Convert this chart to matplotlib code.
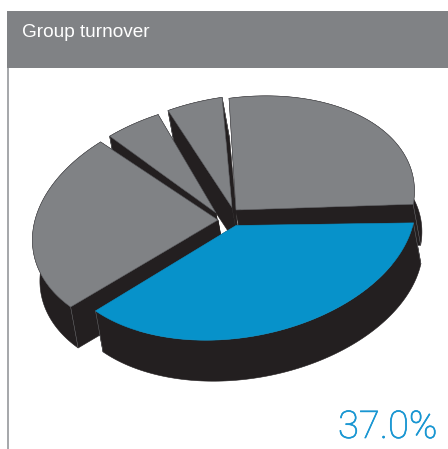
import numpy as np
import matplotlib
matplotlib.use("Agg")
import matplotlib.pyplot as plt
import matplotlib.patheffects as pe
from matplotlib.patches import Polygon, Rectangle
from matplotlib import font_manager as fm

# Turnover shares, going anticlockwise from the right-hand edge
segments = ["Upper right", "Small A", "Small B", "Left", "Highlighted"]
shares = [27.5, 5.0, 5.0, 24.5, 37.0]
highlight_label = "37.0%"
title = "Group turnover"

GREY = "#808285"
BLUE = "#0792CA"
DARK = "#231F20"
RULE = "#A7A9AC"
LABEL_BLUE = "#1896D2"
SEAM = "#6D6E71"

# Pie geometry in figure pixels
START_ANGLE = -13.0
RX, RY = 181.0, 112.0
TILT = np.deg2rad(10.0)
DEPTH = np.array([7.5, 41.0])
apexes = {
    "Upper right": (236, 210),
    "Small A": (232, 207.5),
    "Small B": (216, 213),
    "Left": (218, 220),
    "Highlighted": (236, 225.5),
}
radius_scale = {"Upper right": 0.995, "Small A": 0.985, "Small B": 0.98,
                "Left": 1.035, "Highlighted": 1.0}
# Angular shift applied before a slice starts, in degrees
angle_shift = {"Small A": 1.0, "Small B": -2.0, "Left": 2.0, "Highlighted": 1.0}
draw_order = ["Small A", "Small B", "Upper right", "Left", "Highlighted"]

available = {f.name for f in fm.fontManager.ttflist}
light_font = "Roboto" if "Roboto" in available else "Liberation Sans"

fig = plt.figure(figsize=(4.48, 4.49), dpi=100, facecolor="white")
ax = fig.add_axes([0, 0, 1, 1])
ax.set_xlim(0, 448)
ax.set_ylim(449, 0)
ax.axis("off")

# Header band and the rule down the left side
ax.add_patch(Rectangle((7, 11), 441, 57, facecolor=GREY, edgecolor="none", zorder=1))
ax.add_patch(Rectangle((7.3, 68), 1.7, 381, facecolor=RULE, edgecolor="none", zorder=1))
ax.text(22, 37, title, color="white", fontsize=13.7, family="Liberation Sans",
        va="baseline", ha="left", zorder=5)


def arc_points(apex, a0, a1, scale):
    """Elliptical rim of one slice, as points in figure pixels."""
    t = np.deg2rad(np.linspace(a0, a1, 120))
    ex, ey = scale * RX * np.cos(t), scale * RY * np.sin(t)
    x = apex[0] + ex * np.cos(TILT) - ey * np.sin(TILT)
    y = apex[1] - (ex * np.sin(TILT) + ey * np.cos(TILT))
    return np.column_stack([x, y])


# Cumulative angles from the shares
angles = {}
current = START_ANGLE
for name, share in zip(segments, shares):
    current += angle_shift.get(name, 0.0)
    sweep = share / 100.0 * 360.0
    angles[name] = (current, current + sweep)
    current += sweep

z = 2
for name in draw_order:
    apex = np.array(apexes[name], dtype=float)
    rim = arc_points(apex, *angles[name], radius_scale.get(name, 1.0))
    wall = np.vstack([rim, (rim + DEPTH)[::-1]])
    side_a = np.array([apex, rim[0], rim[0] + DEPTH, apex + DEPTH])
    side_b = np.array([apex, rim[-1], rim[-1] + DEPTH, apex + DEPTH])
    for shape in (wall, side_a, side_b):
        ax.add_patch(Polygon(shape, closed=True, facecolor=DARK, edgecolor=DARK,
                             linewidth=0.4, zorder=z))
    # Faint seams where the rim wall meets the cut faces
    for corner in (rim[0], rim[-1]):
        ax.plot([corner[0], corner[0] + DEPTH[0]], [corner[1], corner[1] + DEPTH[1]],
                color=SEAM, linewidth=0.35, zorder=z)
    z += 1
    top = np.vstack([[apex], rim])
    face = BLUE if name == "Highlighted" else GREY
    edge = BLUE if name == "Highlighted" else "#55565A"
    ax.add_patch(Polygon(top, closed=True, facecolor=face, edgecolor=edge,
                         linewidth=0.4, zorder=z))
    z += 1

ax.text(437.5, 438, highlight_label, color=LABEL_BLUE, fontsize=27.5,
        family=light_font, fontweight="light", ha="right", va="baseline", zorder=5,
        path_effects=[pe.withStroke(linewidth=0.5, foreground=LABEL_BLUE)])

fig.savefig("out.png", dpi=100, facecolor="white")
